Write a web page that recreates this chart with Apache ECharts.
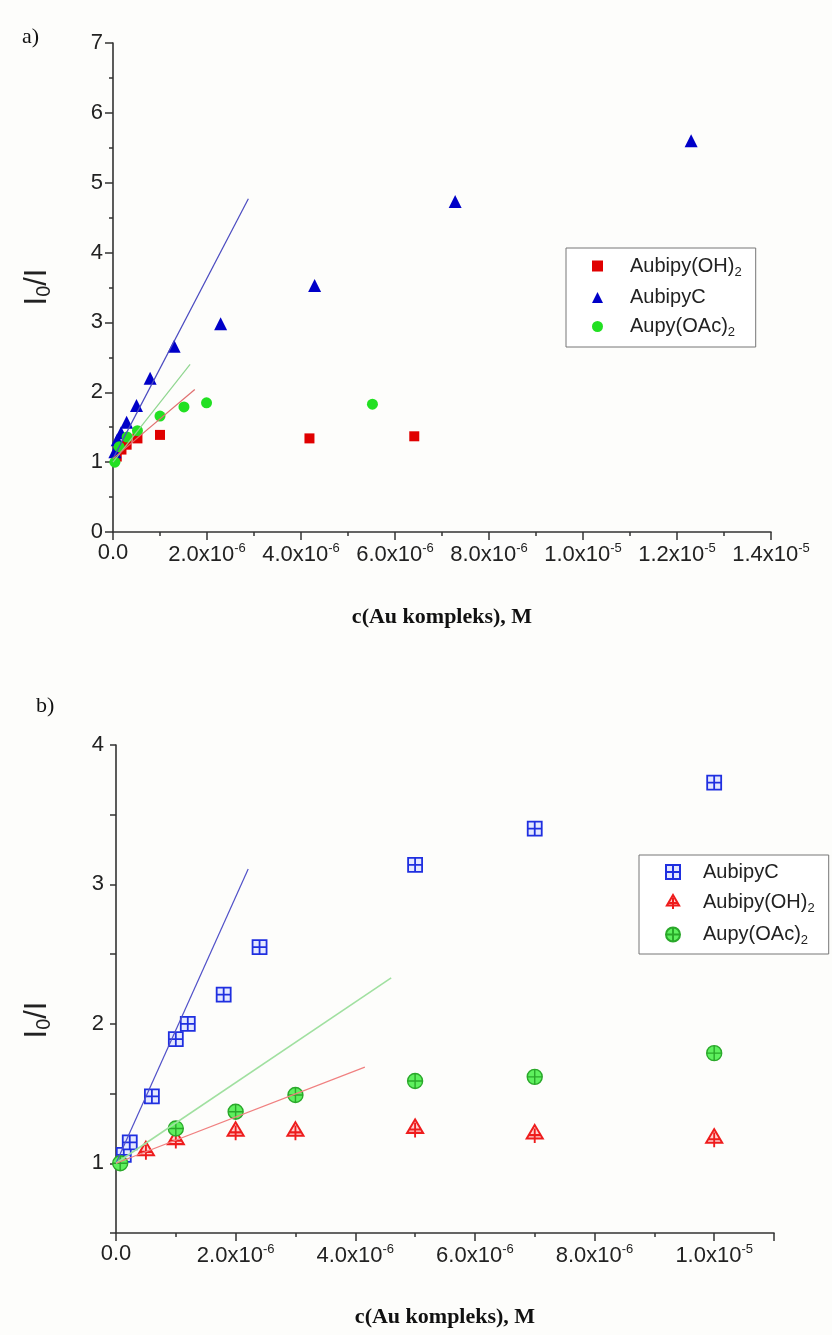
<!DOCTYPE html>
<html><head><meta charset="utf-8">
<script src="https://cdn.jsdelivr.net/npm/echarts@6/dist/echarts.min.js"></script>
<style>html,body{margin:0;padding:0;background:#fdfdfb;}#c{width:832px;height:1335px;}</style>
</head><body><div id="c"></div>
<script>
// ---------- DATA (x in units of 1e-6 M) ----------
// Panel a
const aX_OH  = [0.08, 0.18, 0.29, 0.52, 1.00, 4.18, 6.41];
const aY_OH  = [1.08, 1.18, 1.25, 1.34, 1.39, 1.34, 1.37];
const aX_C   = [0.04, 0.09, 0.17, 0.29, 0.50, 0.79, 1.30, 2.29, 4.29, 7.28, 12.3];
const aY_C   = [1.15, 1.32, 1.42, 1.57, 1.81, 2.20, 2.66, 2.98, 3.53, 4.73, 5.60];
const aX_OAc = [0.04, 0.13, 0.30, 0.52, 1.00, 1.51, 1.99, 5.52];
const aY_OAc = [1.00, 1.22, 1.36, 1.45, 1.66, 1.79, 1.85, 1.83];
// fitted lines panel a (start / end points)
const aFitX_C = [0, 2.88],  aFitY_C = [1.05, 4.77];
const aFitX_OAc = [0, 1.64], aFitY_OAc = [1.00, 2.40];
const aFitX_OH = [0, 1.74],  aFitY_OH = [1.05, 2.04];
// Panel b
const bX_C   = [0.13, 0.23, 0.6, 1.0, 1.2, 1.8, 2.4, 5, 7, 10];
const bY_C   = [1.06, 1.15, 1.48, 1.89, 2.00, 2.21, 2.55, 3.14, 3.40, 3.73];
const bX_OH  = [0.5, 1, 2, 3, 5, 7, 10];
const bY_OH  = [1.09, 1.17, 1.23, 1.23, 1.25, 1.21, 1.18];
const bX_OAc = [0.07, 1, 2, 3, 5, 7, 10];
const bY_OAc = [1.00, 1.25, 1.37, 1.49, 1.59, 1.62, 1.79];
const bFitX_C = [0, 2.21],  bFitY_C = [1.00, 3.11];
const bFitX_OAc = [0, 4.6], bFitY_OAc = [1.00, 2.33];
const bFitX_OH = [0, 4.16], bFitY_OH = [1.00, 1.69];
// texts
const xTitle = 'c(Au kompleks), M';
const namesA = ['Aubipy(OH)2', 'AubipyC', 'Aupy(OAc)2'];
const namesB = ['AubipyC', 'Aubipy(OH)2', 'Aupy(OAc)2'];

const zip = (xs, ys) => xs.map((x, i) => [x, ys[i]]);

function xFmt(v) {
  if (v === 0) return '0.0';
  const e = Math.floor(Math.log10(v) + 1e-9);
  const m = v / Math.pow(10, e);
  return m.toFixed(1) + 'x10{s|' + (e - 6) + '}';
}
const supRich = { s: { fontSize: 13, fontFamily: 'Liberation Sans, Arial', color: '#222', padding: [0, 0, 12, 0] } };
function legFmt(name) {
  const n = name.slice(2);
  return n.replace(/\)2$/, '){sub|2}');
}
const legRich = { sub: { fontSize: 13, fontFamily: 'Liberation Sans, Arial', color: '#222', padding: [12, 0, 0, 0] } };

const axisCommon = {
  axisLine: { show: true, onZero: false, lineStyle: { color: '#333', width: 1.6 } },
  axisTick: { show: true, length: 8, lineStyle: { color: '#333', width: 1.5 } },
  minorTick: { show: true, splitNumber: 2, length: 4, lineStyle: { color: '#333', width: 1.5 } },
  splitLine: { show: false },
  minorSplitLine: { show: false },
};
const labelStyle = { fontSize: 22, fontFamily: 'Liberation Sans, Arial', color: '#222' };

const PATH_SQ = 'path://M0,0 L14,0 L14,14 L0,14 Z M7,0 L7,14 M0,7 L14,7';
const PATH_TRI = 'path://M7,0 L14,12 L0,12 Z M7,3 L7,16 M2,9 L12,9';
const PATH_CIR = 'path://M0,7 A7,7 0 1,1 14,7 A7,7 0 1,1 0,7 Z M7,0 L7,14 M0,7 L14,7';

const chart = echarts.init(document.getElementById('c'), null, { renderer: 'canvas' });
const option = {
  backgroundColor: '#fdfdfb',
  animation: false,
  grid: [
    { left: 113, top: 43, width: 658, height: 489 },
    { left: 116, top: 745, width: 658, height: 488 }
  ],
  xAxis: [
    Object.assign({}, axisCommon, {
      gridIndex: 0, type: 'value', min: 0, max: 14, interval: 2,
      name: xTitle, nameLocation: 'middle', nameGap: 74,
      nameTextStyle: { fontSize: 22, fontWeight: 'bold', fontFamily: 'Liberation Serif, Times New Roman', color: '#111' },
      axisLabel: Object.assign({}, labelStyle, { margin: 10, formatter: xFmt, rich: supRich })
    }),
    Object.assign({}, axisCommon, {
      gridIndex: 1, type: 'value', min: 0, max: 11, interval: 2,
      name: xTitle, nameLocation: 'middle', nameGap: 73,
      nameTextStyle: { fontSize: 22, fontWeight: 'bold', fontFamily: 'Liberation Serif, Times New Roman', color: '#111' },
      axisLabel: Object.assign({}, labelStyle, { margin: 10, formatter: v => (Math.abs(v / 2 - Math.round(v / 2)) < 1e-9 ? xFmt(v) : ''), rich: supRich })
    })
  ],
  yAxis: [
    Object.assign({}, axisCommon, {
      gridIndex: 0, type: 'value', min: 0, max: 7, interval: 1,
      axisLabel: Object.assign({}, labelStyle, { margin: 10 })
    }),
    Object.assign({}, axisCommon, {
      gridIndex: 1, type: 'value', min: 0.5, max: 4, interval: 0.5,
      minorTick: { show: false },
      axisTick: { show: true, length: 6, lineStyle: { color: '#333', width: 1.5 } },
      axisLabel: Object.assign({}, labelStyle, { margin: 12, formatter: v => (Number.isInteger(v) ? String(v) : '') })
    })
  ],
  legend: [
    {
      data: namesA.map(n => 'a:' + n), orient: 'vertical', left: 566, top: 248,
      itemWidth: 11, itemHeight: 11, itemGap: 9,
      padding: [8, 14, 8, 26], borderColor: '#777', borderWidth: 1, backgroundColor: '#ffffff',
      formatter: legFmt, selectedMode: false,
      textStyle: { fontSize: 20, fontFamily: 'Liberation Sans, Arial', color: '#222', padding: [0, 0, 0, 22], rich: legRich }
    },
    {
      data: namesB.map(n => 'b:' + n), orient: 'vertical', left: 639, top: 855,
      itemWidth: 14, itemHeight: 14, itemGap: 10,
      padding: [7, 14, 7, 26], borderColor: '#777', borderWidth: 1, backgroundColor: '#ffffff',
      formatter: legFmt, selectedMode: false,
      textStyle: { fontSize: 20, fontFamily: 'Liberation Sans, Arial', color: '#222', padding: [0, 0, 0, 18], rich: legRich }
    }
  ],
  graphic: [
    { type: 'text', left: 22, top: 26, style: { text: 'a)', font: '22px "Liberation Serif", serif', fill: '#111' } },
    { type: 'text', left: 36, top: 695, style: { text: 'b)', font: '22px "Liberation Serif", serif', fill: '#111' } },
    { type: 'text', x: 37, y: 287, rotation: Math.PI / 2,
      style: { text: 'I{s|0}/I', font: '31px "Liberation Sans", Arial', fill: '#222', align: 'center', verticalAlign: 'middle',
        rich: { s: { fontSize: 20, fontFamily: 'Liberation Sans, Arial', fill: '#222', padding: [14, 0, 0, 0] } } } },
    { type: 'text', x: 37, y: 1020, rotation: Math.PI / 2,
      style: { text: 'I{s|0}/I', font: '31px "Liberation Sans", Arial', fill: '#222', align: 'center', verticalAlign: 'middle',
        rich: { s: { fontSize: 20, fontFamily: 'Liberation Sans, Arial', fill: '#222', padding: [14, 0, 0, 0] } } } }
  ],
  series: [
    // panel a fit lines
    { type: 'line', xAxisIndex: 0, yAxisIndex: 0, data: zip(aFitX_C, aFitY_C), symbol: 'none', lineStyle: { color: '#4a4ac0', width: 1.2 }, silent: true },
    { type: 'line', xAxisIndex: 0, yAxisIndex: 0, data: zip(aFitX_OAc, aFitY_OAc), symbol: 'none', lineStyle: { color: '#8fd68f', width: 1.2 }, silent: true },
    { type: 'line', xAxisIndex: 0, yAxisIndex: 0, data: zip(aFitX_OH, aFitY_OH), symbol: 'none', lineStyle: { color: '#e07070', width: 1.2 }, silent: true },
    // panel a scatter
    { name: 'a:Aubipy(OH)2', type: 'scatter', xAxisIndex: 0, yAxisIndex: 0, data: zip(aX_OH, aY_OH), symbol: 'rect', symbolSize: 10, itemStyle: { color: '#e00000', opacity: 1 } },
    { name: 'a:AubipyC', type: 'scatter', xAxisIndex: 0, yAxisIndex: 0, data: zip(aX_C, aY_C), symbol: 'triangle', symbolSize: 13, itemStyle: { color: '#0000c8', opacity: 1 } },
    { name: 'a:Aupy(OAc)2', type: 'scatter', xAxisIndex: 0, yAxisIndex: 0, data: zip(aX_OAc, aY_OAc), symbol: 'circle', symbolSize: 11, itemStyle: { color: '#22e022', opacity: 1 } },
    // panel b fit lines
    { type: 'line', xAxisIndex: 1, yAxisIndex: 1, data: zip(bFitX_C, bFitY_C), symbol: 'none', lineStyle: { color: '#5050c8', width: 1.2 }, silent: true },
    { type: 'line', xAxisIndex: 1, yAxisIndex: 1, data: zip(bFitX_OAc, bFitY_OAc), symbol: 'none', lineStyle: { color: '#a0e0a0', width: 1.6 }, silent: true },
    { type: 'line', xAxisIndex: 1, yAxisIndex: 1, data: zip(bFitX_OH, bFitY_OH), symbol: 'none', lineStyle: { color: '#f08080', width: 1.2 }, silent: true },
    // panel b scatter
    { name: 'b:AubipyC', type: 'scatter', xAxisIndex: 1, yAxisIndex: 1, data: zip(bX_C, bY_C), symbol: PATH_SQ, symbolSize: 14,
      itemStyle: { color: '#e4e8ff', borderColor: '#1f2fe0', borderWidth: 1.8, opacity: 1 } },
    { name: 'b:Aubipy(OH)2', type: 'scatter', xAxisIndex: 1, yAxisIndex: 1, data: zip(bX_OH, bY_OH), symbol: PATH_TRI, symbolSize: [16, 18],
      itemStyle: { color: '#ffd0d0', borderColor: '#ee1c1c', borderWidth: 2, opacity: 1 } },
    { name: 'b:Aupy(OAc)2', type: 'scatter', xAxisIndex: 1, yAxisIndex: 1, data: zip(bX_OAc, bY_OAc), symbol: PATH_CIR, symbolSize: 15,
      itemStyle: { color: '#5ef05e', borderColor: '#2aa82a', borderWidth: 1.4, opacity: 1 } }
  ]
};
chart.setOption(option);
</script>
</body></html>
